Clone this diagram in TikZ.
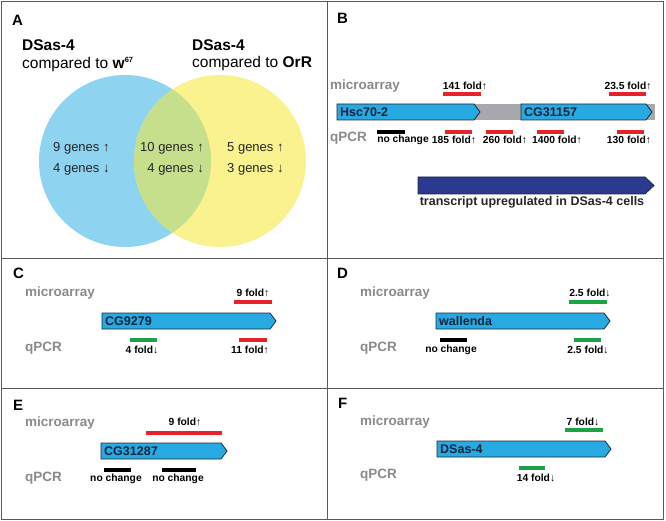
\documentclass[tikz,border=0pt]{standalone}
\usepackage{fontspec}
\setmainfont{Liberation Sans}
\definecolor{framegray}{HTML}{5A5A5A}
\definecolor{labgray}{HTML}{8A8A8A}
\definecolor{vennblue}{HTML}{8ED3F0}
\definecolor{vennyellow}{HTML}{FAF28E}
\definecolor{venngreen}{HTML}{C6DF8C}
\definecolor{genecyan}{HTML}{27A9E1}
\definecolor{geneedge}{HTML}{1B2A3A}
\definecolor{genetext}{HTML}{14243A}
\definecolor{upred}{HTML}{E8212B}
\definecolor{downgreen}{HTML}{1DA249}
\definecolor{bandgray}{HTML}{A6A8AB}
\definecolor{transblue}{HTML}{2B3990}

\begin{document}
\begin{tikzpicture}[x=1pt,y=-1pt,line join=miter,
  panel/.style={draw=framegray,line width=0.9pt},
  letter/.style={anchor=west,inner sep=0pt,font=\fontsize{15}{17}\selectfont\bfseries},
  head/.style={anchor=west,inner sep=0pt,font=\fontsize{15.5}{17}\selectfont},
  venn/.style={inner sep=0pt,text=black!85,font=\fontsize{13}{15}\selectfont},
  rowlab/.style={anchor=west,inner sep=0pt,text=labgray,font=\fontsize{13.5}{15}\selectfont\bfseries},
  gene/.style={fill=genecyan,draw=geneedge,line width=0.8pt},
  genename/.style={anchor=west,inner sep=0pt,text=genetext,font=\fontsize{12.5}{14}\selectfont\bfseries},
  bar/.style={line width=4pt},
  fold/.style={inner sep=0pt,font=\fontsize{10.3}{12}\selectfont\bfseries}]
\useasboundingbox (0,0) rectangle (666,521);
% frame
\draw[panel] (1.5,1.5) rectangle (663.5,519);
\draw[panel] (327,1.5) -- (327,519);
\draw[panel] (1.5,258) -- (663.5,258);
\draw[panel] (1.5,388) -- (663.5,388);
% A
\node[letter] (labA) at (12,20) {A};
\node[head] (hdL) at (22,45) {\bfseries DSas-4};
\node[head] (cmpL) at (22,64) {compared to \textbf{w}\raisebox{5.5pt}{\fontsize{7.5}{8}\selectfont\bfseries 67}};
\node[head] (hdR) at (192,45) {\bfseries DSas-4};
\node[head] (cmpR) at (192,63) {compared to \textbf{OrR}};
\fill[vennblue] (125,161) circle (86pt);
\fill[vennyellow] (220,161) circle (86pt);
\begin{scope}
\clip (125,161) circle (86pt);
\fill[venngreen] (220,161) circle (86pt);
\end{scope}
\node[venn,anchor=west] (lup) at (53,148) {9 genes ↑};
\node[venn,anchor=west] (ldn) at (53,169) {4 genes ↓};
\node[venn,anchor=east] (mup) at (204,148) {10 genes ↑};
\node[venn,anchor=east] (mdn) at (204,169) {4 genes ↓};
\node[venn,anchor=west] (rup) at (227,148) {5 genes ↑};
\node[venn,anchor=west] (rdn) at (227,169) {3 genes ↓};
% B
\node[letter] (labB) at (337,18) {B};
\node[rowlab] (maB) at (330,86) {microarray};
\node[rowlab] (qpB) at (330,138) {qPCR};
\fill[bandgray] (470,104) rectangle (655,120);
\draw[gene] (337,104) -- (474,104) -- (480,112) -- (474,120) -- (337,120) -- cycle;
\node[genename] (hsc) at (340,112) {Hsc70-2};
\draw[gene] (521,104) -- (646,104) -- (652,112) -- (646,120) -- (521,120) -- cycle;
\node[genename] (cgB) at (524,112) {CG31157};
\draw[bar,upred] (443,94) -- (481,94);
\node[fold] (maB1) at (465,86) {141 fold↑};
\draw[bar,upred] (609,94) -- (646,94);
\node[fold] (maB2) at (628,86) {23.5 fold↑};
\draw[bar,black] (377,132) -- (405,132);
\node[fold] (qpB1) at (403,140) {no change};
\draw[bar,upred] (445,132) -- (472,132);
\node[fold] (qpB2) at (454,140) {185 fold↑};
\draw[bar,upred] (486,132) -- (513,132);
\node[fold] (qpB3) at (505,140) {260 fold↑};
\draw[bar,upred] (537,132) -- (564,132);
\node[fold] (qpB4) at (557,140) {1400 fold↑};
\draw[bar,upred] (617,132) -- (644,132);
\node[fold] (qpB5) at (629,140) {130 fold↑};
\draw[fill=transblue,draw=geneedge,line width=0.8pt] (418,177) -- (645,177) -- (654,185.5) -- (645,194) -- (418,194) -- cycle;
\node[inner sep=0pt,font=\fontsize{12.5}{14}\selectfont\bfseries,text=black!85] (trans) at (532,202) {transcript upregulated in DSas-4 cells};
% C
\node[letter] (labC) at (13,273) {C};
\node[rowlab] (maC) at (25,293) {microarray};
\node[rowlab] (qpC) at (25,348) {qPCR};
\draw[gene] (102,313) -- (270,313) -- (276,321) -- (270,329) -- (102,329) -- cycle;
\node[genename] (cgC) at (105,321) {CG9279};
\draw[bar,upred] (234,302) -- (272,302);
\node[fold] (maC1) at (253,293) {9 fold↑};
\draw[bar,downgreen] (130,340) -- (157,340);
\node[fold] (qpC1) at (142,350) {4 fold↓};
\draw[bar,upred] (239,340) -- (267,340);
\node[fold] (qpC2) at (250,350) {11 fold↑};
% D
\node[letter] (labD) at (337,273) {D};
\node[rowlab] (maD) at (360,293) {microarray};
\node[rowlab] (qpD) at (360,348) {qPCR};
\draw[gene] (436,313) -- (604,313) -- (610,321) -- (604,329) -- (436,329) -- cycle;
\node[genename] (wal) at (439,321) {wallenda};
\draw[bar,downgreen] (569,302) -- (607,302);
\node[fold] (maD1) at (590,293) {2.5 fold↓};
\draw[bar,black] (440,340) -- (467,340);
\node[fold] (qpD1) at (451,350) {no change};
\draw[bar,downgreen] (574,340) -- (601,340);
\node[fold] (qpD2) at (588,350) {2.5 fold↓};
% E
\node[letter] (labE) at (13,405) {E};
\node[rowlab] (maE) at (25,423) {microarray};
\node[rowlab] (qpE) at (25,478) {qPCR};
\draw[gene] (101,443) -- (221,443) -- (227,451) -- (221,459) -- (101,459) -- cycle;
\node[genename] (cgE) at (104,451) {CG31287};
\draw[bar,upred] (146,433) -- (222,433);
\node[fold] (maE1) at (185,422) {9 fold↑};
\draw[bar,black] (104,470) -- (131,470);
\node[fold] (qpE1) at (116,479) {no change};
\draw[bar,black] (162,470) -- (196,470);
\node[fold] (qpE2) at (178,479) {no change};
% F
\node[letter] (labF) at (338,403) {F};
\node[rowlab] (maF) at (360,422) {microarray};
\node[rowlab] (qpF) at (360,475) {qPCR};
\draw[gene] (437,441) -- (605,441) -- (611,449) -- (605,457) -- (437,457) -- cycle;
\node[genename] (sas) at (440,449) {DSas-4};
\draw[bar,downgreen] (565,430) -- (603,430);
\node[fold] (maF1) at (583,422) {7 fold↓};
\draw[bar,downgreen] (519,468) -- (545,468);
\node[fold] (qpF1) at (536,478) {14 fold↓};
\end{tikzpicture}
\end{document}
